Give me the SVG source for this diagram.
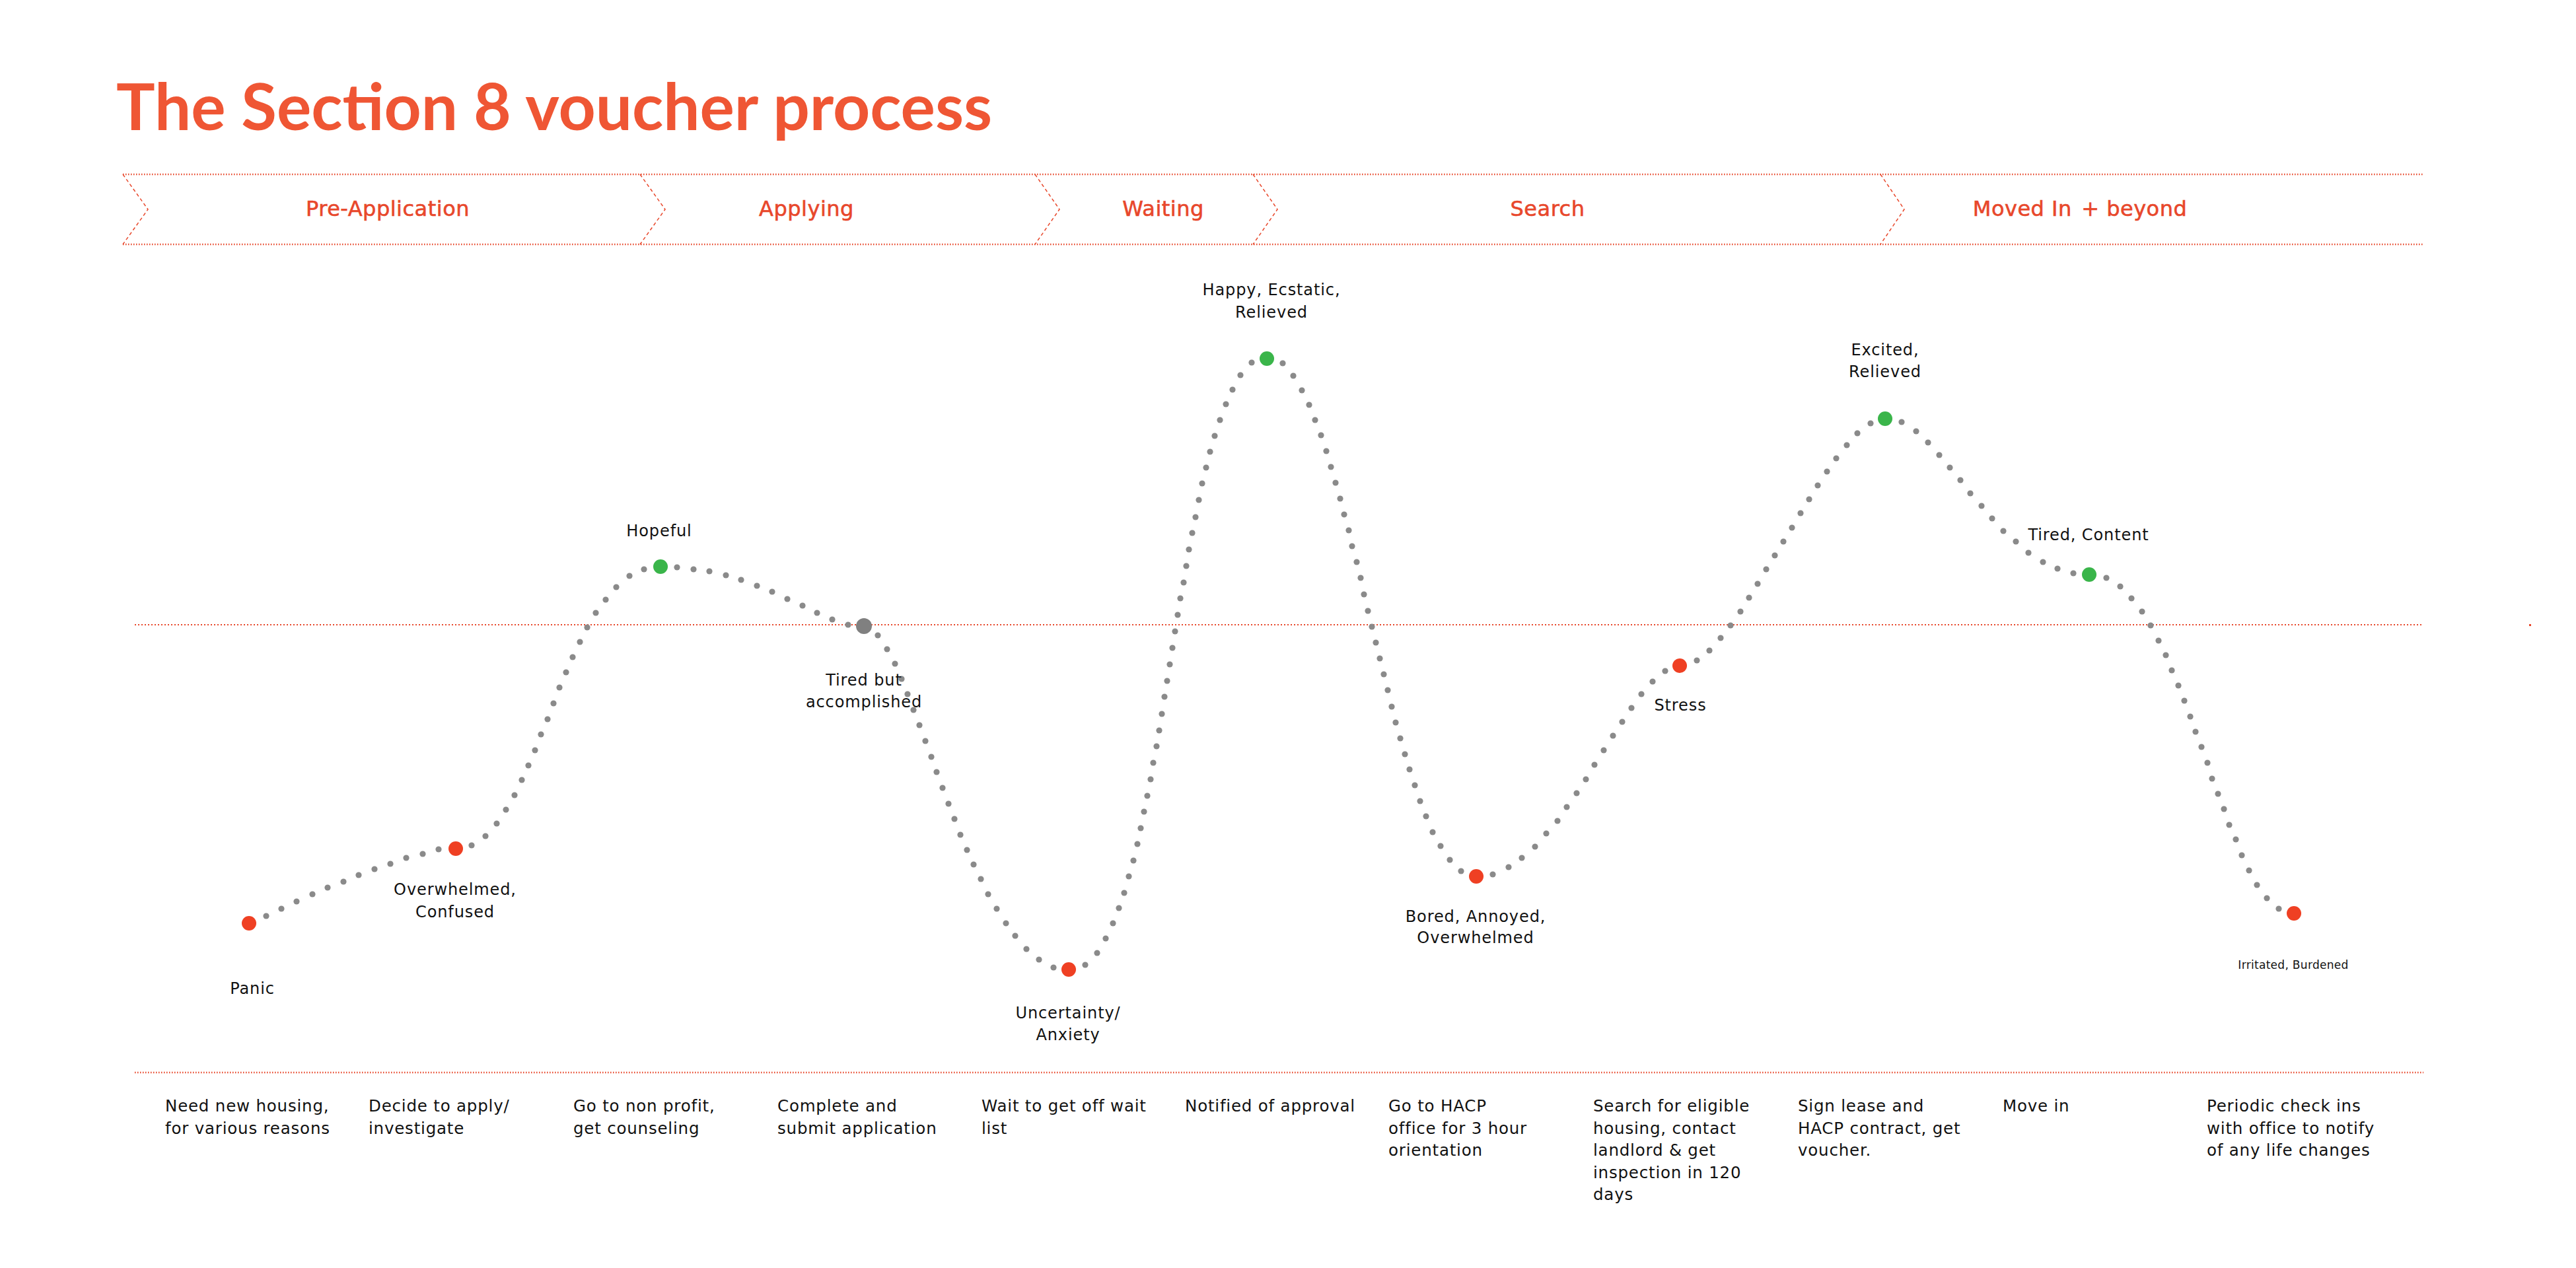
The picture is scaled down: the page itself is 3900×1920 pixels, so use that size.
<svg xmlns="http://www.w3.org/2000/svg" width="3900" height="1920" viewBox="0 0 3900 1920">
<style>
.title{font-family:Lato,"Liberation Sans",sans-serif;font-weight:700;font-size:98px;fill:#EF5634}
.phase{font-family:"DejaVu Sans","Liberation Sans",sans-serif;font-size:32px;fill:#E8472B;stroke:#E8472B;stroke-width:0.6;text-anchor:middle;letter-spacing:0.5px}
.lbl{font-family:"DejaVu Sans","Liberation Sans",sans-serif;font-size:24px;fill:#111;text-anchor:middle;letter-spacing:0.9px}
.step{font-family:"DejaVu Sans","Liberation Sans",sans-serif;font-size:24.5px;fill:#111;letter-spacing:0.8px}
.small{font-family:"DejaVu Sans","Liberation Sans",sans-serif;font-size:17px;fill:#111;text-anchor:middle;letter-spacing:0.3px}
.hline{stroke:#E8472B;stroke-width:2.5;stroke-dasharray:1.5 2.5;fill:none}
.mline{stroke:#E8472B;stroke-width:2;stroke-dasharray:2 3;fill:none}
.chev{stroke:#E8472B;stroke-width:1.5;stroke-dasharray:5 4;fill:none}
.curve{fill:none;stroke:none;marker-mid:url(#dot)}
.red{fill:#EF4023}
.green{fill:#3AB54A}
.gray{fill:#808080}
</style>
<defs>
<marker id="dot" markerUnits="userSpaceOnUse" markerWidth="12" markerHeight="12" refX="6" refY="6" orient="0">
<circle cx="6" cy="6" r="4.6" fill="#8A8A8A"/>
</marker>
</defs>
<rect width="3900" height="1920" fill="#fff"/>
<text class="title" x="176" y="197">The Section 8 voucher process</text>

<g id="phases">
<line class="hline" x1="186" y1="264" x2="3669" y2="264"/>
<line class="hline" x1="186" y1="370" x2="3669" y2="370"/>
<path class="chev" d="M186,264 L224,317 L186,370"/>
<path class="chev" d="M969,264 L1007,317 L969,370"/>
<path class="chev" d="M1567,264 L1604,317 L1567,370"/>
<path class="chev" d="M1897,264 L1934,317 L1897,370"/>
<path class="chev" d="M2847,264 L2883,317 L2847,370"/>
<g id="phase-pre"><text class="phase" x="587" y="327">Pre-Application</text></g>
<g id="phase-applying"><text class="phase" x="1221" y="327">Applying</text></g>
<g id="phase-waiting"><text class="phase" x="1761" y="327">Waiting</text></g>
<g id="phase-search"><text class="phase" x="2343" y="327">Search</text></g>
<g id="phase-moved"><text class="phase" x="3149" y="327" letter-spacing="0">Moved In&#8202; + beyond</text></g>
</g>

<g id="guides">
<line class="mline" x1="204" y1="946" x2="3669" y2="946"/>
<rect x="3829" y="945" width="3" height="3" fill="#E8472B"/>
<line class="hline" x1="204" y1="1624" x2="3669" y2="1624"/>
</g>

<g id="connectors">
<path class="curve" d="M377,1398 L403,1387 426,1376 449,1365 473,1354 496,1344 520,1335 543,1325 567,1316 591,1308 615,1299 640,1293 664,1286 690,1285"/>
<path class="curve" d="M690,1285 L714,1280 735,1266 752,1247 766,1226 779,1204 790,1181 800,1159 810,1136 819,1112 829,1089 838,1065 847,1041 857,1018 867,995 878,972 889,950 902,928 917,908 933,889 953,872 975,862 1000,858"/>
<path class="curve" d="M1000,858 L1025,859 1050,862 1074,865 1099,871 1122,878 1146,887 1169,896 1192,907 1215,917 1237,928 1260,938 1284,946 1308,948"/>
<path class="curve" d="M1308,948 L1329,962 1343,983 1355,1005 1365,1028 1374,1051 1383,1075 1392,1098 1401,1122 1410,1146 1418,1169 1427,1193 1436,1217 1445,1240 1454,1264 1464,1287 1474,1309 1485,1331 1496,1354 1509,1376 1523,1398 1537,1417 1554,1437 1573,1453 1595,1465 1618,1468"/>
<path class="curve" d="M1618,1468 L1643,1461 1661,1443 1674,1421 1685,1398 1694,1375 1702,1352 1709,1327 1716,1303 1722,1278 1727,1254 1732,1229 1737,1205 1742,1180 1746,1155 1751,1130 1755,1106 1759,1081 1763,1055 1767,1031 1771,1006 1775,981 1779,956 1783,931 1787,906 1792,882 1796,857 1800,832 1805,807 1810,783 1815,757 1820,732 1826,708 1832,684 1839,660 1847,636 1856,612 1866,590 1878,568 1895,549 1918,543"/>
<path class="curve" d="M1918,543 L1942,550 1958,569 1971,591 1982,613 1991,636 2000,659 2008,683 2015,707 2022,731 2029,755 2035,779 2042,803 2047,827 2054,851 2060,875 2065,900 2071,925 2077,949 2083,973 2089,997 2095,1021 2101,1045 2107,1070 2113,1094 2120,1118 2127,1142 2134,1165 2142,1189 2150,1213 2159,1236 2169,1260 2181,1281 2195,1302 2212,1319 2235,1327"/>
<path class="curve" d="M2235,1327 L2260,1324 2284,1313 2304,1299 2324,1282 2341,1262 2358,1243 2372,1222 2387,1201 2401,1180 2414,1158 2428,1136 2442,1114 2456,1093 2470,1072 2485,1051 2502,1032 2521,1016 2543,1008"/>
<path class="curve" d="M2543,1008 L2569,1000 2588,985 2605,966 2620,947 2635,926 2648,905 2661,884 2674,862 2687,841 2700,820 2713,799 2726,777 2739,756 2752,735 2766,714 2780,694 2796,674 2812,656 2832,641 2854,634"/>
<path class="curve" d="M2854,634 L2879,639 2901,653 2919,670 2936,689 2952,708 2968,727 2983,747 3000,766 3016,785 3033,804 3052,820 3071,837 3093,851 3115,861 3139,868 3163,870"/>
<path class="curve" d="M3163,870 L3189,875 3210,888 3227,906 3243,926 3256,947 3268,970 3279,992 3288,1015 3298,1038 3307,1061 3316,1085 3324,1108 3333,1131 3342,1155 3349,1179 3358,1202 3367,1225 3375,1249 3385,1271 3394,1295 3405,1318 3417,1340 3432,1360 3450,1376 3473,1383"/>
</g>

<g id="n-panic"><circle class="red" cx="377" cy="1398" r="11"/><text class="lbl" x="382" y="1505">Panic</text></g>
<g id="n-overwhelmed"><circle class="red" cx="690" cy="1285" r="11"/><text class="lbl" x="689" y="1355">Overwhelmed,</text><text class="lbl" x="689" y="1389">Confused</text></g>
<g id="n-hopeful"><circle class="green" cx="1000" cy="858" r="11"/><text class="lbl" x="998" y="812">Hopeful</text></g>
<g id="n-tired"><circle class="gray" cx="1308" cy="948" r="12"/><text class="lbl" x="1308" y="1038">Tired but</text><text class="lbl" x="1308" y="1071">accomplished</text></g>
<g id="n-uncertainty"><circle class="red" cx="1618" cy="1468" r="11"/><text class="lbl" x="1617" y="1542">Uncertainty/</text><text class="lbl" x="1617" y="1575">Anxiety</text></g>
<g id="n-happy"><circle class="green" cx="1918" cy="543" r="11"/><text class="lbl" x="1925" y="447">Happy, Ecstatic,</text><text class="lbl" x="1925" y="481">Relieved</text></g>
<g id="n-bored"><circle class="red" cx="2235" cy="1327" r="11"/><text class="lbl" x="2234" y="1396">Bored, Annoyed,</text><text class="lbl" x="2234" y="1428">Overwhelmed</text></g>
<g id="n-stress"><circle class="red" cx="2543" cy="1008" r="11"/><text class="lbl" x="2544" y="1076">Stress</text></g>
<g id="n-excited"><circle class="green" cx="2854" cy="634" r="11"/><text class="lbl" x="2854" y="538">Excited,</text><text class="lbl" x="2854" y="571">Relieved</text></g>
<g id="n-content"><circle class="green" cx="3163" cy="870" r="11"/><text class="lbl" x="3162" y="818">Tired, Content</text></g>
<g id="n-irritated"><circle class="red" cx="3473" cy="1383" r="11"/><text class="small" x="3472" y="1467">Irritated, Burdened</text></g>

<g id="steps">
<g id="s1"><text class="step" x="250" y="1683">Need new housing,</text><text class="step" x="250" y="1716.5">for various reasons</text></g>
<g id="s2"><text class="step" x="558" y="1683">Decide to apply/</text><text class="step" x="558" y="1716.5">investigate</text></g>
<g id="s3"><text class="step" x="868" y="1683">Go to non profit,</text><text class="step" x="868" y="1716.5">get counseling</text></g>
<g id="s4"><text class="step" x="1177" y="1683">Complete and</text><text class="step" x="1177" y="1716.5">submit application</text></g>
<g id="s5"><text class="step" x="1486" y="1683">Wait to get off wait</text><text class="step" x="1486" y="1716.5">list</text></g>
<g id="s6"><text class="step" x="1794" y="1683">Notified of approval</text></g>
<g id="s7"><text class="step" x="2102" y="1683">Go to HACP</text><text class="step" x="2102" y="1716.5">office for 3 hour</text><text class="step" x="2102" y="1750">orientation</text></g>
<g id="s8"><text class="step" x="2412" y="1683">Search for eligible</text><text class="step" x="2412" y="1716.5">housing, contact</text><text class="step" x="2412" y="1750">landlord &amp; get</text><text class="step" x="2412" y="1783.5">inspection in 120</text><text class="step" x="2412" y="1817">days</text></g>
<g id="s9"><text class="step" x="2722" y="1683">Sign lease and</text><text class="step" x="2722" y="1716.5">HACP contract, get</text><text class="step" x="2722" y="1750">voucher.</text></g>
<g id="s10"><text class="step" x="3032" y="1683">Move in</text></g>
<g id="s11"><text class="step" x="3341" y="1683">Periodic check ins</text><text class="step" x="3341" y="1716.5">with office to notify</text><text class="step" x="3341" y="1750">of any life changes</text></g>
</g>
</svg>
